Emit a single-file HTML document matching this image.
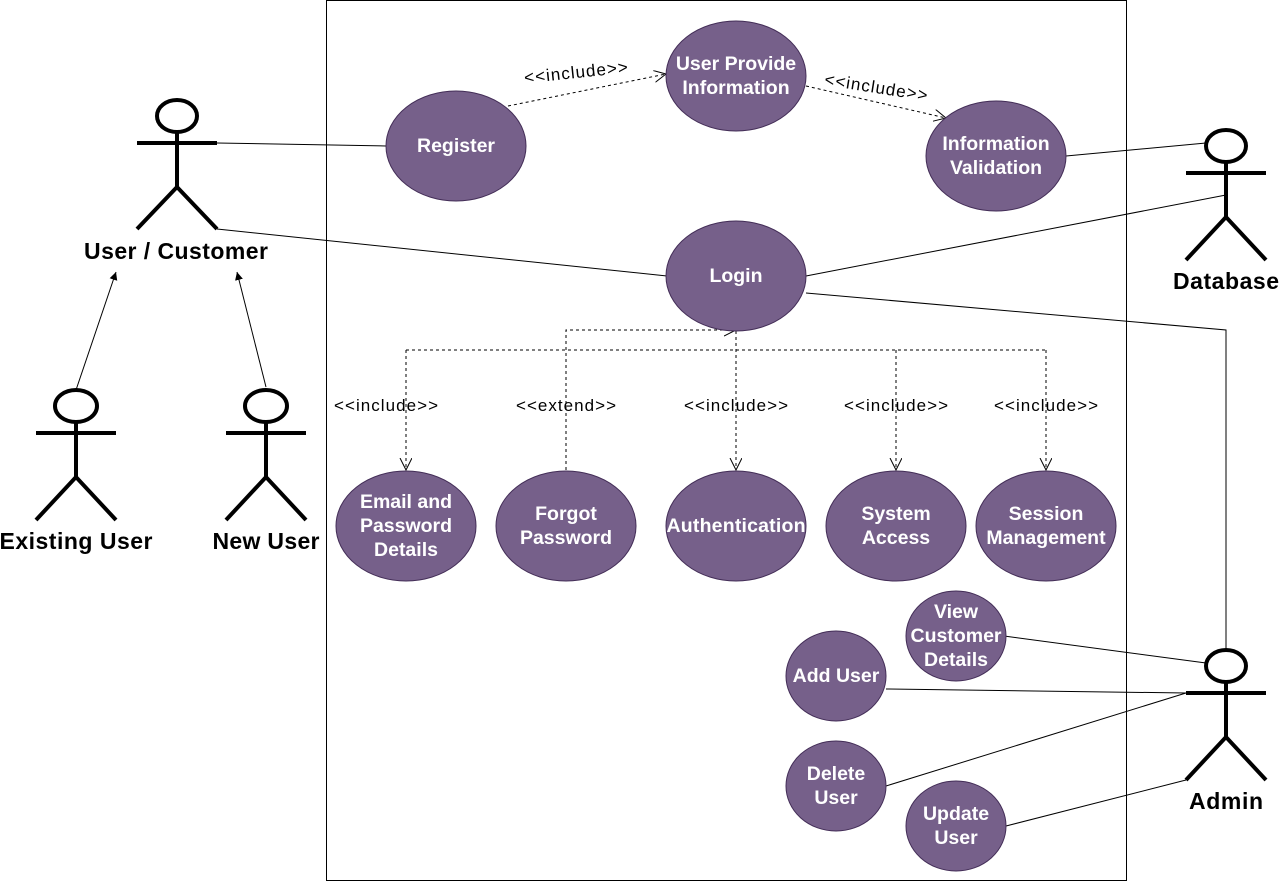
<!DOCTYPE html>
<html><head><meta charset="utf-8"><style>
html,body{margin:0;padding:0;background:#fff;}
svg{display:block;font-family:"Liberation Sans",Arial,sans-serif;}
.uc{fill:#76608a;stroke:#432d57;stroke-width:1;}
.t{fill:#fff;font-weight:bold;font-size:19.5px;text-anchor:middle;}
.a{fill:#000;font-weight:bold;font-size:23px;text-anchor:middle;}
.l{fill:#000;font-size:17px;text-anchor:middle;}
.act{stroke:#000;stroke-width:4;fill:none;}
.ln{stroke:#000;stroke-width:1;fill:none;}
.d{stroke:#000;stroke-width:1;fill:none;stroke-dasharray:3,3;}
</style></head><body>
<svg width="1280" height="881" viewBox="0 0 1280 881">
<defs>
<marker id="op" markerWidth="14" markerHeight="14" refX="12" refY="6" orient="auto" markerUnits="userSpaceOnUse"><path d="M0,0 L12,6 L0,12" fill="none" stroke="#000" stroke-width="1"/></marker>
<marker id="fl" markerWidth="10" markerHeight="10" refX="8" refY="4" orient="auto" markerUnits="userSpaceOnUse"><path d="M0,0 L8,4 L0,8 Z" fill="#000"/></marker>
</defs>
<rect x="326.5" y="0.5" width="800" height="880" fill="#fff" stroke="#000" stroke-width="1"/>

<line class="ln" x1="217" y1="143" x2="386" y2="146"/>
<line class="ln" x1="217" y1="229" x2="667" y2="276"/>
<line class="ln" x1="1066" y1="156" x2="1206" y2="143"/>
<line class="ln" x1="806" y1="276" x2="1226" y2="195"/>
<polyline class="ln" points="806,293 1226,330 1226,650"/>
<line class="ln" x1="1004" y1="636" x2="1206" y2="663"/>
<line class="ln" x1="886" y1="689" x2="1186" y2="693"/>
<line class="ln" x1="886" y1="786" x2="1186" y2="693"/>
<line class="ln" x1="1006" y1="826" x2="1186" y2="780"/>

<line class="ln" x1="76" y1="390" x2="116" y2="272" marker-end="url(#fl)"/>
<line class="ln" x1="266" y1="387" x2="237" y2="272" marker-end="url(#fl)"/>

<line class="d" x1="508" y1="106" x2="666" y2="74" marker-end="url(#op)"/>
<line class="d" x1="806" y1="86" x2="946" y2="118" marker-end="url(#op)"/>
<line class="d" x1="736" y1="331" x2="736" y2="470" marker-end="url(#op)"/>
<polyline class="d" points="406,350 1046,350"/>
<line class="d" x1="406" y1="350" x2="406" y2="470" marker-end="url(#op)"/>
<line class="d" x1="896" y1="350" x2="896" y2="470" marker-end="url(#op)"/>
<line class="d" x1="1046" y1="350" x2="1046" y2="470" marker-end="url(#op)"/>
<polyline class="d" points="566,470 566,330 736,330" marker-end="url(#op)"/>

<text class="l" x="576" y="78" transform="rotate(-6 576 73)" textLength="104">&lt;&lt;include&gt;&gt;</text>
<text class="l" x="876" y="93" transform="rotate(9 876 88)" textLength="104">&lt;&lt;include&gt;&gt;</text>
<text class="l" x="386" y="411" textLength="104">&lt;&lt;include&gt;&gt;</text>
<text class="l" x="566" y="411" textLength="100">&lt;&lt;extend&gt;&gt;</text>
<text class="l" x="736" y="411" textLength="104">&lt;&lt;include&gt;&gt;</text>
<text class="l" x="896" y="411" textLength="104">&lt;&lt;include&gt;&gt;</text>
<text class="l" x="1046" y="411" textLength="104">&lt;&lt;include&gt;&gt;</text>

<ellipse class="uc" cx="456" cy="146" rx="70" ry="55"/><text class="t" x="456" y="152">Register</text>
<ellipse class="uc" cx="736" cy="76" rx="70" ry="55"/><text class="t" x="736" y="70">User Provide</text><text class="t" x="736" y="94">Information</text>
<ellipse class="uc" cx="996" cy="156" rx="70" ry="55"/><text class="t" x="996" y="150">Information</text><text class="t" x="996" y="174">Validation</text>
<ellipse class="uc" cx="736" cy="276" rx="70" ry="55"/><text class="t" x="736" y="282">Login</text>
<ellipse class="uc" cx="406" cy="526" rx="70" ry="55"/><text class="t" x="406" y="508">Email and</text><text class="t" x="406" y="532">Password</text><text class="t" x="406" y="556">Details</text>
<ellipse class="uc" cx="566" cy="526" rx="70" ry="55"/><text class="t" x="566" y="520">Forgot</text><text class="t" x="566" y="544">Password</text>
<ellipse class="uc" cx="736" cy="526" rx="70" ry="55"/><text class="t" x="736" y="532" textLength="139">Authentication</text>
<ellipse class="uc" cx="896" cy="526" rx="70" ry="55"/><text class="t" x="896" y="520">System</text><text class="t" x="896" y="544">Access</text>
<ellipse class="uc" cx="1046" cy="526" rx="70" ry="55"/><text class="t" x="1046" y="520">Session</text><text class="t" x="1046" y="544">Management</text>
<ellipse class="uc" cx="956" cy="636" rx="50" ry="45"/><text class="t" x="956" y="618">View</text><text class="t" x="956" y="642">Customer</text><text class="t" x="956" y="666">Details</text>
<ellipse class="uc" cx="836" cy="676" rx="50" ry="45"/><text class="t" x="836" y="682">Add User</text>
<ellipse class="uc" cx="836" cy="786" rx="50" ry="45"/><text class="t" x="836" y="780">Delete</text><text class="t" x="836" y="804">User</text>
<ellipse class="uc" cx="956" cy="826" rx="50" ry="45"/><text class="t" x="956" y="820">Update</text><text class="t" x="956" y="844">User</text>

<g class="act">
<ellipse cx="177" cy="116" rx="20" ry="16" fill="#fff"/><line x1="177" y1="132" x2="177" y2="187"/><line x1="137" y1="143" x2="217" y2="143"/><polyline points="137,229 177,187 217,229"/>
<ellipse cx="76" cy="406" rx="21" ry="16" fill="#fff"/><line x1="76" y1="422" x2="76" y2="477"/><line x1="36" y1="433" x2="116" y2="433"/><polyline points="36,520 76,477 116,520"/>
<ellipse cx="266" cy="406" rx="21" ry="16" fill="#fff"/><line x1="266" y1="422" x2="266" y2="477"/><line x1="226" y1="433" x2="306" y2="433"/><polyline points="226,520 266,477 306,520"/>
<ellipse cx="1226" cy="146" rx="20" ry="16" fill="#fff"/><line x1="1226" y1="162" x2="1226" y2="217"/><line x1="1186" y1="173" x2="1266" y2="173"/><polyline points="1186,260 1226,217 1266,260"/>
<ellipse cx="1226" cy="666" rx="20" ry="16" fill="#fff"/><line x1="1226" y1="682" x2="1226" y2="737"/><line x1="1186" y1="693" x2="1266" y2="693"/><polyline points="1186,780 1226,737 1266,780"/>
</g>
<text class="a" x="176" y="259" textLength="184">User / Customer</text>
<text class="a" x="76" y="549" textLength="153">Existing User</text>
<text class="a" x="266" y="549" textLength="107">New User</text>
<text class="a" x="1226" y="289" textLength="106">Database</text>
<text class="a" x="1226" y="809" textLength="74">Admin</text>
</svg>
</body></html>
